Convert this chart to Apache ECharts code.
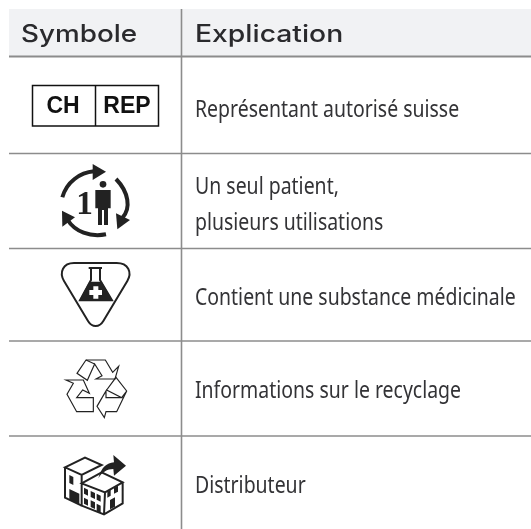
<!DOCTYPE html>
<html>
<head>
<meta charset="utf-8">
<style>
html, body { margin: 0; padding: 0; background: #fff; }
#main { width: 531px; height: 529px; }
</style>
<script src="https://cdn.jsdelivr.net/npm/echarts@6/dist/echarts.min.js"></script>
</head>
<body>
<div id="main"></div>
<script>
// table content
var headers = ["Symbole", "Explication"];
var explanations = [
	["Représentant autorisé suisse"],
	["Un seul patient,", "plusieurs utilisations"],
	["Contient une substance médicinale"],
	["Informations sur le recyclage"],
	["Distributeur"]
];
var explanationY = [110, 187, 298, 391, 486];
var lineGap = 36;
var ruleY = [56.5, 153.5, 248.5, 341, 436];

var headFont = '500 24px Inter';
var bodyFont = '23px "Noto Sans"';
var inkColor = "#2a2a2d";
var ruleColor = "#8c8c8c";

var g = [];

// header band and rules
g.push({ type: "rect", shape: { x: 9, y: 9, width: 522, height: 47 }, style: { fill: "#f1f2f4" } });
ruleY.forEach(function(y, i) {
	g.push({ type: "line", shape: { x1: 9, y1: y, x2: 531, y2: y }, style: { stroke: ruleColor, lineWidth: i == 0 ? 2 : 1.4 } });
});
g.push({ type: "line", shape: { x1: 181.5, y1: 9, x2: 181.5, y2: 529 }, style: { stroke: ruleColor, lineWidth: 1.6 } });

// texts
function addText(str, x, y, font, sx, color) {
	g.push({
		type: "text", x: x, y: y, scaleX: sx,
		style: { text: str, font: font, fill: color, textAlign: "left", textVerticalAlign: "middle" }
	});
}
addText(headers[0], 21, 35, headFont, 1.16, inkColor);
addText(headers[1], 195, 35, headFont, 1.18, inkColor);
explanations.forEach(function(lines, i) {
	lines.forEach(function(s, j) {
		addText(s, 195, explanationY[i] + j * lineGap, bodyFont, 0.846, "#333336");
	});
});

// CH REP box
g.push({ type: "rect", shape: { x: 32.5, y: 85.5, width: 126, height: 40.5 }, style: { fill: "#fff", stroke: "#111", lineWidth: 1.5 } });
g.push({ type: "line", shape: { x1: 95.5, y1: 85.5, x2: 95.5, y2: 126 }, style: { stroke: "#111", lineWidth: 1.5 } });
["CH", "REP"].forEach(function(s, i) {
	g.push({
		type: "text", x: i == 0 ? 63 : 127, y: 106.5,
		style: { text: s, font: 'bold 23px "Liberation Sans"', fill: "#111", textAlign: "center", textVerticalAlign: "middle" }
	});
});

function p(d, fill, stroke, w) {
	return {
		type: "path", shape: { pathData: d },
		style: { fill: fill || "none", stroke: stroke || "none", lineWidth: w || 0, lineJoin: "miter", lineCap: "butt" }
	};
}

// icons are drawn in the 3x coordinates of the crops
var ink = "#222";
var icons = [
	{ y: 0, parts: [
		p("M187 592 C200 545 240 518 282 514", null, ink, 12),
		p("M278 492 L318 515 L278 540 Z", ink),
		p("M348 537 C385 575 395 625 366 655", null, ink, 12),
		p("M348 640 L390 660 L352 688 Z", ink),
		p("M318 703 C270 712 225 695 203 660", null, ink, 12),
		p("M186 632 L225 652 L187 680 Z", ink),
		{ type: "circle", shape: { cx: 309, cy: 553, r: 10 }, style: { fill: ink } },
		p("M286 570 L332 570 L332 625 L324 625 L324 675 L312 675 L312 630 L306 630 L306 675 L294 675 L294 625 L286 625 Z", ink),
		{ type: "text", x: 254, y: 616, style: { text: "1", font: 'bold 100px "Liberation Serif"', fill: ink, textAlign: "center", textVerticalAlign: "middle" } }
	] },
	{ y: 265, parts: [
		p("M222 -6 L350 -6 C385 -6 397 22 382 48 L310 168 C298 188 276 188 264 168 L192 48 C177 22 189 -6 222 -6 Z", null, ink, 6),
		p("M266 9 L306 9 M273 9 L273 45 L240 106 L336 106 L300 45 L300 9", null, ink, 6),
		p("M268 50 L305 50 L338 108 L237 108 Z", ink),
		p("M280 64 L295 64 L295 75 L306 75 L306 90 L295 90 L295 101 L280 101 L280 90 L268 90 L268 75 L280 75 Z", "#fff")
	] },
	{ y: 265, parts: [
		p("M231 325 L258 285 L316 285 L338 322 L356 304 L345 342 L288 342 L306 332 L284 297 L262 346 Z", null, ink, 3.5),
		p("M258 285 L284 297", null, ink, 3.5),
		p("M198 345 L250 345 L268 385 L248 375 L230 398 L280 398 L280 440 L230 440 L201 388 L220 355 Z", null, ink, 3.5),
		p("M348 337 L380 378 L350 440 L318 440 L313 458 L291 424 L318 378 L318 398 L365 398 L320 375 Z M365 398 L380 378", null, ink, 3.5)
	] },
	{ y: 265, parts: [
		p("M295 640 C305 605 320 595 342 592 L340 570 L378 602 L342 632 L340 612 C322 612 305 622 295 640 Z", ink),
		p("M195 607 L255 578 L305 600 L245 630 Z M195 607 L195 698 L245 722 M245 630 L245 655", null, ink, 6),
		p("M245 655 L305 622 L368 652 L315 682 Z M245 655 L245 722 L312 748 L368 715 L368 652 M315 682 L312 748", null, ink, 6),
		p("M208 630 L220 636 L220 660 L208 654 Z M208 672 L238 686 L238 720 L208 704 Z", ink),
		p("M252 668 L264 674 L264 692 L252 686 Z M272 678 L285 684 L285 702 L272 696 Z M290 686 L302 692 L302 710 L290 704 Z", ink),
		p("M252 698 L264 704 L264 722 L252 716 Z M272 706 L285 712 L285 732 L272 726 Z", ink),
		p("M290 716 L302 722 L302 745 L290 738 Z M322 680 L332 674 L332 692 L322 698 Z M342 668 L354 662 L354 680 L342 686 Z M330 705 L345 697 L345 725 L330 733 Z", ink)
	] }
];

var chart = echarts.init(document.getElementById("main"));
chart.setOption({
	animation: false,
	graphic: { elements: g },
	series: [{
		type: "custom",
		coordinateSystem: "none",
		silent: true,
		data: icons.map(function(ic, i) { return [i]; }),
		renderItem: function(params, api) {
			var ic = icons[api.value(0)];
			return { type: "group", x: 0, y: ic.y, scaleX: 1 / 3, scaleY: 1 / 3, children: ic.parts };
		}
	}]
});
</script>
</body>
</html>
